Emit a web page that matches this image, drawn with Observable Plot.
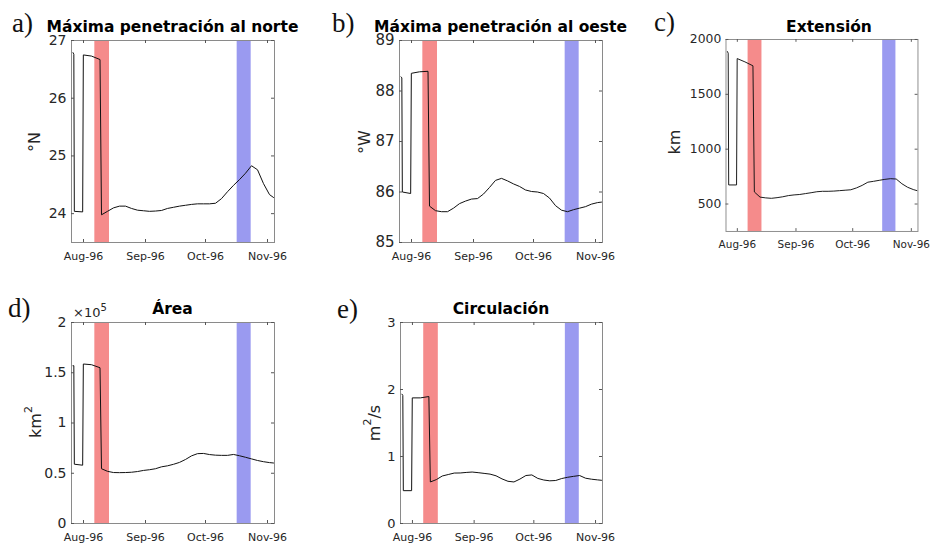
<!DOCTYPE html>
<html>
<head>
<meta charset="utf-8">
<script src="https://cdn.jsdelivr.net/npm/d3@7"></script>
<script src="https://cdn.jsdelivr.net/npm/@observablehq/plot@0.6"></script>
<style>
  html, body { margin: 0; padding: 0; background: #fff; }
  #root { position: relative; width: 946px; height: 544px; overflow: hidden; background: #fff; }
  .panel { position: absolute; }
  .panel svg { overflow: visible; }
  #overlay { position: absolute; left: 0; top: 0; pointer-events: none; }
</style>
</head>
<body>
<div id="root"></div>
<script>
// ---------- data ----------
const dates = ["1996-07-26T18:00Z","1996-07-27T04:00Z","1996-07-27T10:00Z","1996-07-31T14:00Z",
  "1996-07-31T22:00Z","1996-08-05","1996-08-09T06:00Z","1996-08-10",
  "1996-08-13","1996-08-16","1996-08-19","1996-08-22","1996-08-25","1996-08-28","1996-08-31",
  "1996-09-03","1996-09-06","1996-09-09","1996-09-12","1996-09-15","1996-09-18","1996-09-21",
  "1996-09-24","1996-09-27","1996-09-30","1996-10-03","1996-10-06","1996-10-09","1996-10-12",
  "1996-10-15","1996-10-18","1996-10-21","1996-10-24","1996-10-27","1996-10-30","1996-11-02","1996-11-04"];

const northLat = [26.79, 26.76, 24.04, 24.03, 26.75, 26.73, 26.67, 23.98,
  24.04, 24.10, 24.13, 24.13, 24.09, 24.06, 24.05, 24.04, 24.045, 24.055, 24.09, 24.11,
  24.13, 24.145, 24.16, 24.17, 24.17, 24.17, 24.18, 24.26, 24.38, 24.49, 24.59, 24.70,
  24.83, 24.76, 24.52, 24.33, 24.28];

const westLon = [88.28, 88.26, 86.00, 85.97, 88.35, 88.38, 88.39, 85.72,
  85.63, 85.61, 85.61, 85.68, 85.77, 85.82, 85.86, 85.87, 85.96, 86.09, 86.23, 86.27,
  86.22, 86.16, 86.11, 86.04, 86.01, 86.00, 85.97, 85.88, 85.73, 85.64, 85.61, 85.65,
  85.68, 85.71, 85.76, 85.79, 85.80];

const extension = [1890, 1875, 674, 674, 1826, 1796, 1760, 610,
  563, 556, 552, 558, 566, 577, 583, 587, 595, 603, 612, 616,
  616, 618, 622, 626, 630, 647, 670, 699, 707, 716, 725, 731,
  728, 685, 653, 632, 622];

const area = [157000, 157000, 59000, 58000, 158700, 158000, 155000, 54500,
  51900, 50700, 50600, 50700, 51000, 51700, 52800, 53500, 54500, 56400, 57400, 58900,
  60800, 63700, 67300, 69500, 69700, 68600, 68000, 67800, 67800, 68700, 67400, 65900,
  64300, 62700, 61500, 60600, 60200];

const circulation = [1.93, 1.91, 0.49, 0.49, 1.875, 1.875, 1.895, 0.62,
  0.655, 0.709, 0.731, 0.753, 0.754, 0.762, 0.768, 0.759, 0.748, 0.737, 0.712, 0.666,
  0.630, 0.620, 0.663, 0.716, 0.725, 0.673, 0.649, 0.637, 0.642, 0.671, 0.690, 0.704,
  0.716, 0.676, 0.661, 0.651, 0.645];

const bandStart = ["1996-08-06T16:00Z", "1996-10-16T20:00Z"];
const bandEnd   = ["1996-08-14T00:00Z", "1996-10-23T20:00Z"];
const bandColor = ["#f58b8b", "#9a9af0"];

const xDomain = ["1996-07-26T00:00Z", "1996-11-04T12:00Z"];
const xTickDates = ["1996-08-01", "1996-09-01", "1996-10-01", "1996-11-01"];

const ticksA = [24, 25, 26, 27];
const ticksB = [85, 86, 87, 88, 89];
const ticksC = [500, 1000, 1500, 2000];
const ticksD = [0, 50000, 100000, 150000, 200000];
const ticksE = [0, 1, 2, 3];

const titles = ["Máxima penetración al norte", "Máxima penetración al oeste", "Extensión", "Área", "Circulación"];
const letters = ["a)", "b)", "c)", "d)", "e)"];

// ---------- build ----------
const parse = s => new Date(s);
const bands = bandStart.map((s, i) => ({start: parse(s), end: parse(bandEnd[i]), color: bandColor[i]}));
const xTicks = xTickDates.map(parse);
const fmtDate = d3.utcFormat("%b-%y");
const plain = d => String(d);

const ML = 50, MR = 30, MT = 20, MB = 25;

const panels = [
  {values: northLat, domain: [23.5, 27], ticks: ticksA, fmt: plain, fs: 14, l: 71, t: 40, w: 203, h: 202},
  {values: westLon, domain: [85, 89], ticks: ticksB, fmt: plain, fs: 15, l: 399, t: 40, w: 203, h: 202},
  {values: extension, domain: [250, 2000], ticks: ticksC, fmt: plain, fs: 13, l: 728, t: 40, w: 202, h: 202},
  {values: area, domain: [0, 200000], ticks: ticksD, fmt: d => String(d / 1e5), fs: 14, l: 71, t: 322, w: 203, h: 201},
  {values: circulation, domain: [0, 3], ticks: ticksE, fmt: plain, fs: 13, l: 400, t: 322, w: 202, h: 201}
];

const root = document.getElementById("root");

panels.forEach(p => {
  const data = dates.map((d, i) => ({date: parse(d), value: p.values[i]}));
  const chart = Plot.plot({
    width: p.w + ML + MR,
    height: p.h + MT + MB,
    marginLeft: ML, marginRight: MR, marginTop: MT, marginBottom: MB,
    style: {fontFamily: "DejaVu Sans", color: "#262626", background: "transparent", overflow: "visible"},
    x: {type: "utc", domain: xDomain.map(parse)},
    y: {domain: p.domain},
    color: {type: "identity"},
    marks: [
      Plot.rect(bands, {x1: "start", x2: "end", fill: "color"}),
      Plot.lineY(data, {x: "date", y: "value", stroke: "#111", strokeWidth: 1}),
      Plot.frame({stroke: "#8a8a8a", strokeWidth: 1}),
      Plot.tickX(xTicks, {x: d => d, stroke: "#555", insetTop: p.h - 3}),
      Plot.tickX(xTicks, {x: d => d, stroke: "#555", insetBottom: p.h - 3}),
      Plot.tickY(p.ticks, {y: d => d, stroke: "#555", insetRight: p.w - 3}),
      Plot.tickY(p.ticks, {y: d => d, stroke: "#555", insetLeft: p.w - 3}),
      Plot.axisX({ticks: xTicks, tickSize: 0, tickPadding: 10, tickFormat: fmtDate, fontSize: 11, label: null}),
      Plot.axisY({ticks: p.ticks, tickSize: 0, tickPadding: 5, tickFormat: p.fmt, fontSize: p.fs, label: null})
    ]
  });
  const div = document.createElement("div");
  div.className = "panel";
  div.style.left = (p.l - ML) + "px";
  div.style.top = (p.t - MT) + "px";
  div.appendChild(chart);
  root.appendChild(div);
});

// ---------- annotations (titles, panel letters, axis labels) ----------
const svg = d3.select(root).append("svg")
  .attr("id", "overlay").attr("width", 946).attr("height", 544);

const letterPos = [[12, 32], [332, 32], [654, 31], [8, 317], [337, 318]];
letters.forEach((t, i) => {
  svg.append("text").attr("x", letterPos[i][0]).attr("y", letterPos[i][1])
    .attr("font-family", "Liberation Serif").attr("font-size", 27).attr("fill", "#111").text(t);
});

const titlePos = [[172.5, 32], [500.5, 32], [829, 32], [172.5, 314], [501, 314]];
titles.forEach((t, i) => {
  svg.append("text").attr("x", titlePos[i][0]).attr("y", titlePos[i][1])
    .attr("text-anchor", "middle").attr("font-family", "DejaVu Sans").attr("font-weight", "bold")
    .attr("font-size", 15.5).attr("fill", "#000").text(t);
});

const yLabels = [
  {x: 34, y: 142, parts: [["°N", false]]},
  {x: 364, y: 142, parts: [["°W", false]]},
  {x: 674, y: 142, parts: [["km", false]]},
  {x: 35, y: 422, parts: [["km", false], ["2", true]]},
  {x: 374, y: 423, parts: [["m", false], ["2", true], ["/s", false]]}
];
yLabels.forEach(l => {
  const t = svg.append("text")
    .attr("transform", `translate(${l.x},${l.y}) rotate(-90)`)
    .attr("text-anchor", "middle").attr("dominant-baseline", "central")
    .attr("font-family", "DejaVu Sans").attr("font-size", 16).attr("fill", "#262626");
  l.parts.forEach(([s, sup]) => {
    const ts = t.append("tspan").text(s);
    if (sup) ts.attr("font-size", 11).attr("dy", -7);
    else if (t.selectAll("tspan").size() > 1) ts.attr("dy", 7);
  });
});

const mult = svg.append("text").attr("x", 73).attr("y", 317)
  .attr("font-family", "DejaVu Sans").attr("font-size", 13).attr("fill", "#262626");
mult.append("tspan").text("×10");
mult.append("tspan").text("5").attr("font-size", 10).attr("dy", -6);
</script>
</body>
</html>
